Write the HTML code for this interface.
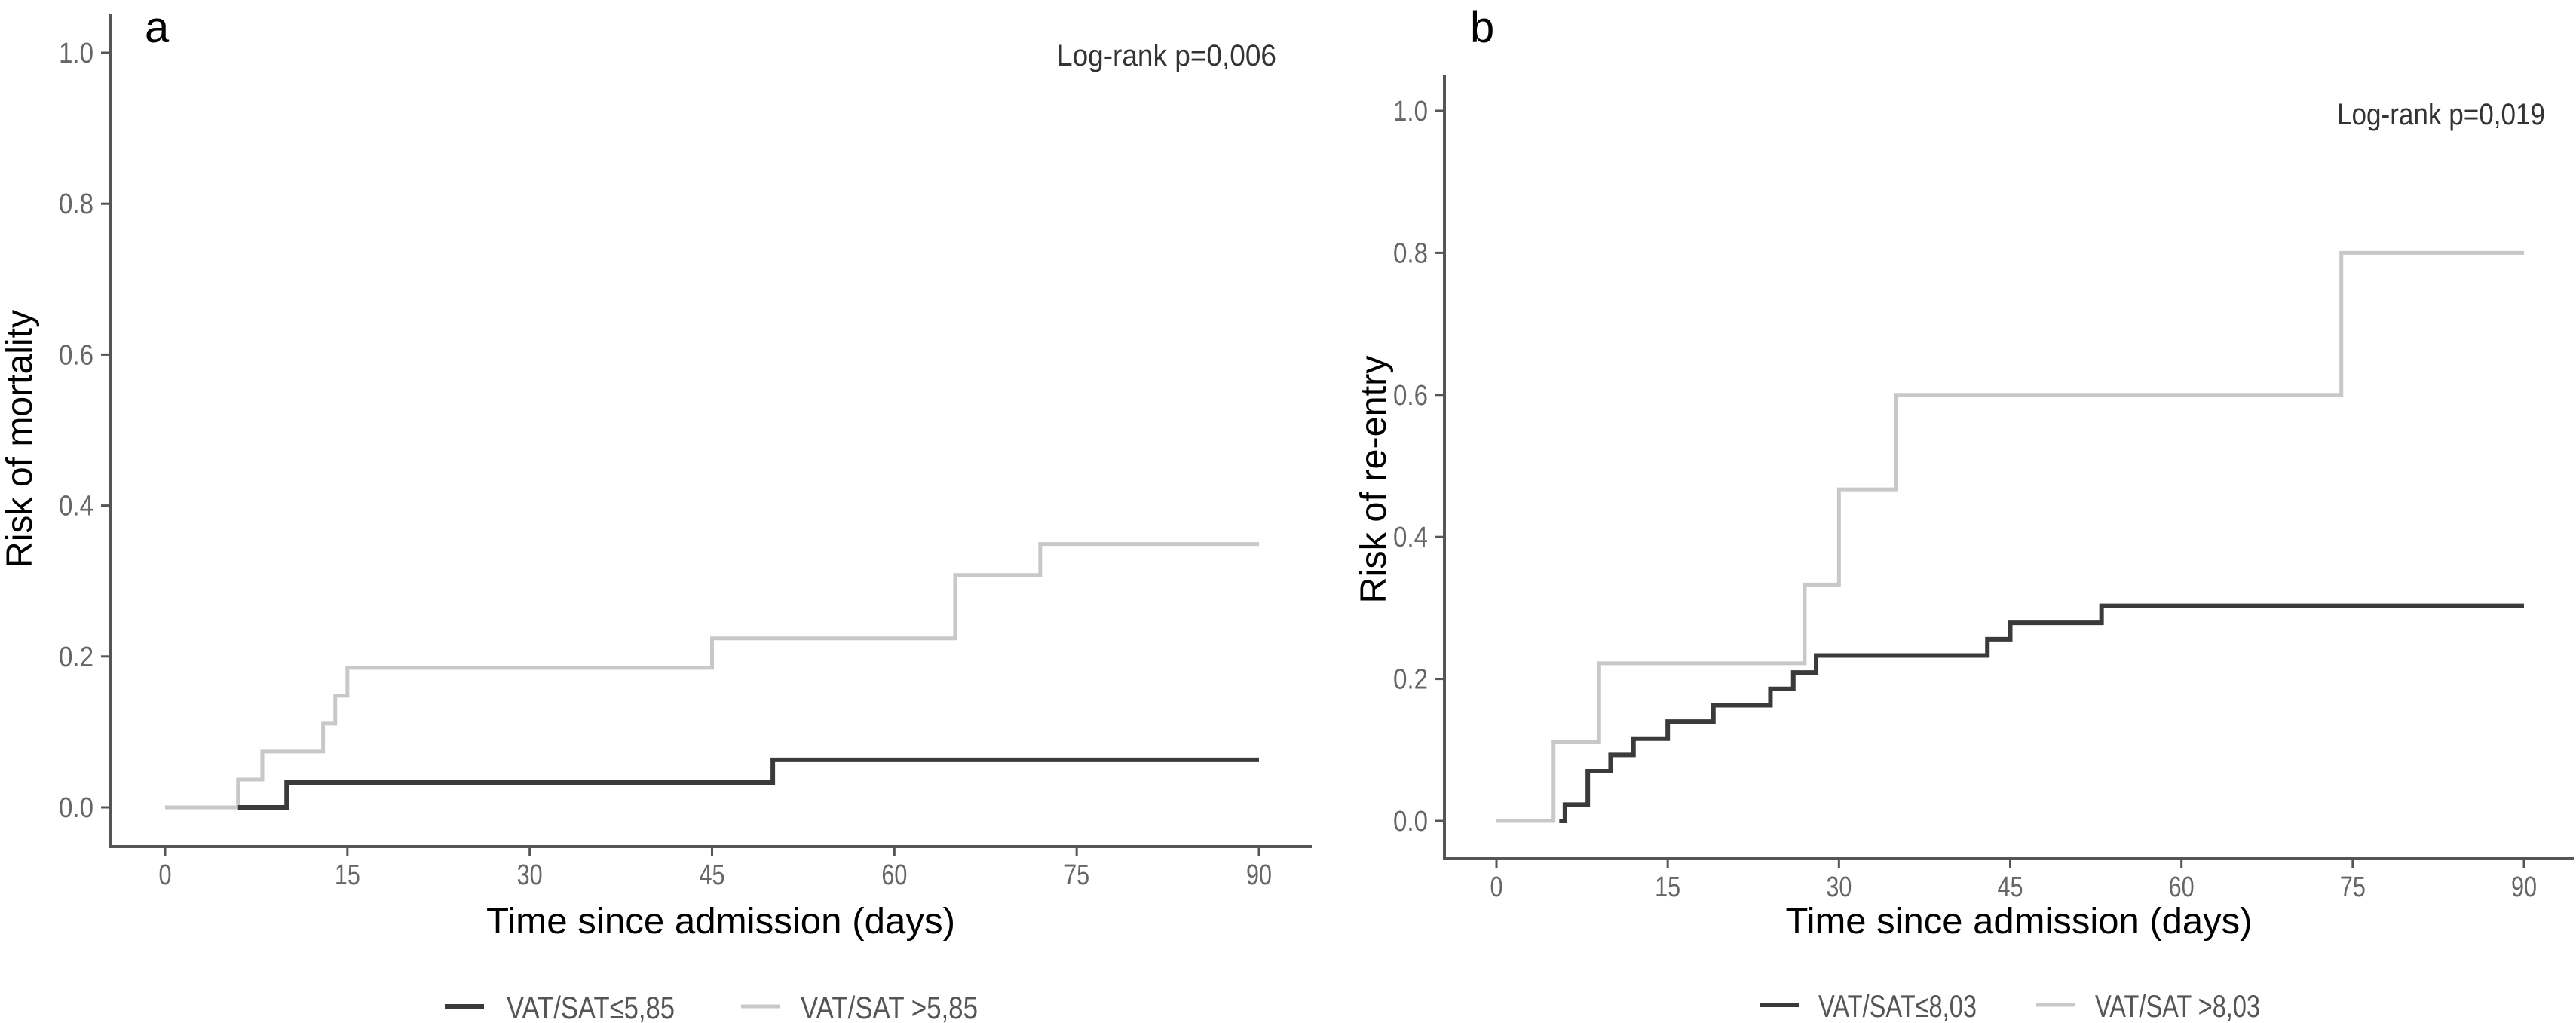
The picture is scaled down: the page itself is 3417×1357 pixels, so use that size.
<!DOCTYPE html>
<html><head><meta charset="utf-8"><style>
html,body{margin:0;padding:0;background:#fff;}
svg{display:block;}
text{font-family:"Liberation Sans",sans-serif;}
</style></head><body>
<svg id="chart" width="3417" height="1357" viewBox="0 0 3417 1357" xmlns="http://www.w3.org/2000/svg"></svg>
<script>
// Panel a data
const aLowTimes = [6, 10, 50];
const aLowRisk = [0, 0.033, 0.063];
const aHighTimes = [0, 6, 8, 13, 14, 15, 45, 65, 72];
const aHighRisk = [0, 0.037, 0.074, 0.111, 0.148, 0.185, 0.224, 0.308, 0.349];
// Panel b data
const bLowTimes = [5.5, 6, 8, 10, 12, 15, 19, 24, 26, 28, 43, 45, 53];
const bLowRisk = [0, 0.023, 0.07, 0.093, 0.116, 0.14, 0.163, 0.186, 0.209, 0.233, 0.256, 0.279, 0.303];
const bHighTimes = [0, 5, 9, 27, 30, 35, 74];
const bHighRisk = [0, 0.111, 0.222, 0.333, 0.467, 0.6, 0.8];
const xTicks = [0, 15, 30, 45, 60, 75, 90];
const yTicks = [0, 0.2, 0.4, 0.6, 0.8, 1.0];
const yTickLabels = ["0.0", "0.2", "0.4", "0.6", "0.8", "1.0"];
const endTime = 90;

const NS = "http://www.w3.org/2000/svg";
const svg = document.getElementById('chart');
function mk(tag, attrs, parent, txt) {
  const e = document.createElementNS(NS, tag);
  for (const k in attrs) e.setAttribute(k, attrs[k]);
  if (txt !== undefined) e.textContent = txt;
  (parent || svg).appendChild(e);
  return e;
}

function panel(cfg) {
  const g = mk('g', {});
  
  
  const X = t => cfg.x0 + (cfg.x90 - cfg.x0) * t / 90;
  const Y = v => cfg.y0 - (cfg.y0 - cfg.y1) * v;
  // axes
  const ya = mk('line', {x1: cfg.ax, y1: cfg.top, x2: cfg.ax, y2: cfg.axY, stroke: '#555', 'stroke-width': 4}, g);
  
  
  const xa = mk('line', {x1: cfg.ax - 2, y1: cfg.axY, x2: cfg.right, y2: cfg.axY, stroke: '#555', 'stroke-width': 4}, g);
  
  
  yTicks.forEach((v, i) => {
    const y = Y(v);
    mk('line', {x1: cfg.ax - 12, y1: y, x2: cfg.ax, y2: y, stroke: '#555', 'stroke-width': 3}, g);
    const t = mk('text', {x: cfg.ax - 22, y: y + 13, 'font-size': 38, fill: '#666', 'text-anchor': 'end', textLength: 46, lengthAdjust: 'spacingAndGlyphs'}, g, yTickLabels[i]);
    
    
  });
  xTicks.forEach(v => {
    const x = X(v);
    mk('line', {x1: x, y1: cfg.axY, x2: x, y2: cfg.axY + 12, stroke: '#555', 'stroke-width': 3}, g);
    const s = String(v);
    const t = mk('text', {x: x, y: cfg.axY + 50, 'font-size': 38, fill: '#666', 'text-anchor': 'middle', textLength: s.length * 17, lengthAdjust: 'spacingAndGlyphs'}, g, s);
    
    
  });
  // curves
  function step(times, vals, color, w, nm) {
    let d = '';
    for (let i = 0; i < times.length; i++) {
      const x = X(times[i]);
      if (i === 0) d += 'M' + x + ',' + Y(vals[0]);
      else d += 'H' + x + 'V' + Y(vals[i]);
    }
    d += 'H' + X(endTime);
    const p = mk('path', {d: d, fill: 'none', stroke: color, 'stroke-width': w}, g);
    
    
  }
  step(cfg.hiT, cfg.hiV, '#c8c8c8', 5, 'curve-high-group');
  step(cfg.loT, cfg.loV, '#3a3a3a', 6, 'curve-low-group');
  // labels
  const pl = mk('text', {x: cfg.letterX, y: 56, 'font-size': 58, fill: '#000'}, g, cfg.letter);
  
  
  const lr = mk('text', {x: cfg.lrX, y: cfg.lrY, 'font-size': 40, fill: '#333', textLength: cfg.lrW, lengthAdjust: 'spacingAndGlyphs'}, g, cfg.lr);
  
  
  const yt = mk('text', {x: 0, y: 0, 'font-size': 48, fill: '#000', 'text-anchor': 'middle', transform: 'translate(' + cfg.ytX + ',' + cfg.ytY + ') rotate(-90)', textLength: cfg.ytW, lengthAdjust: 'spacingAndGlyphs'}, g, cfg.ytitle);
  
  
  const xt = mk('text', {x: cfg.xtX, y: 1238, 'font-size': 48, fill: '#000', 'text-anchor': 'middle', textLength: cfg.xtW, lengthAdjust: 'spacingAndGlyphs'}, g, 'Time since admission (days)');
  
  
  // legend
  const lg = mk('g', {}, g);
  
  
  mk('line', {x1: cfg.lg[0], y1: cfg.lgY, x2: cfg.lg[0] + 52, y2: cfg.lgY, stroke: '#3a3a3a', 'stroke-width': 6}, lg);
  const l1 = mk('text', {x: cfg.lg[1], y: cfg.lgY + 16, 'font-size': 42, fill: '#555', textLength: cfg.lg[2], lengthAdjust: 'spacingAndGlyphs'}, lg, cfg.leg1);
  
  
  mk('line', {x1: cfg.lg[3], y1: cfg.lgY, x2: cfg.lg[3] + 52, y2: cfg.lgY, stroke: '#c8c8c8', 'stroke-width': 5}, lg);
  const l2 = mk('text', {x: cfg.lg[4], y: cfg.lgY + 16, 'font-size': 42, fill: '#555', textLength: cfg.lg[5], lengthAdjust: 'spacingAndGlyphs'}, lg, cfg.leg2);
  
  
}

panel({name: 'panel-a', ax: 146, top: 19, axY: 1123, right: 1740, x0: 219, x90: 1670, y0: 1071, y1: 70,
  loT: aLowTimes, loV: aLowRisk, hiT: aHighTimes, hiV: aHighRisk,
  letter: 'a', letterX: 192, lr: 'Log-rank p=0,006', lrX: 1402, lrY: 87, lrW: 291,
  ytitle: 'Risk of mortality', ytX: 42, ytY: 582, ytW: 342, xtX: 956, xtW: 622,
  lgY: 1335, lg: [590, 672, 223, 983, 1062, 235], leg1: 'VAT/SAT≤5,85', leg2: 'VAT/SAT >5,85'});

panel({name: 'panel-b', ax: 1916, top: 100, axY: 1139, right: 3414, x0: 1985, x90: 3348, y0: 1089, y1: 147,
  loT: bLowTimes, loV: bLowRisk, hiT: bHighTimes, hiV: bHighRisk,
  letter: 'b', letterX: 1950, lr: 'Log-rank p=0,019', lrX: 3100, lrY: 165, lrW: 276,
  ytitle: 'Risk of re-entry', ytX: 1838, ytY: 636, ytW: 329, xtX: 2678, xtW: 619,
  lgY: 1333, lg: [2334, 2412, 210, 2701, 2779, 219], leg1: 'VAT/SAT≤8,03', leg2: 'VAT/SAT >8,03'});
</script>
</body></html>
